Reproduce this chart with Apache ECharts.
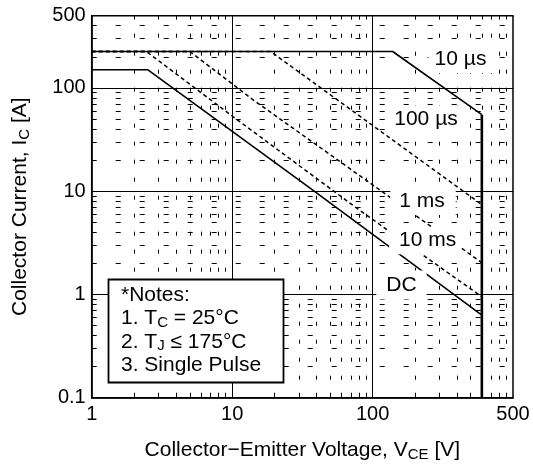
<!DOCTYPE html>
<html><head><meta charset="utf-8">
<script src="https://cdn.jsdelivr.net/npm/echarts@6/dist/echarts.min.js"></script>
<style>html,body{margin:0;padding:0;background:#fff}#c{width:533px;height:464px}</style>
</head><body><div id="c"></div>
<script>
// ---- data ----
const xLabelValues = [1, 10, 100, 1000];
const xLabelTexts = ['1', '10', '100', '500'];
const yLabelValues = [0.1, 1, 10, 100, 500];
const xMinor = [2,3,4,5,6,7,8,9,20,30,40,50,60,70,80,90,200,300,400,500,600,700,800,900];
const yMinor = [0.2,0.3,0.4,0.5,0.6,0.7,0.8,0.9,2,3,4,5,6,7,8,9,20,30,40,50,60,70,80,90,200,300,400];
const xMajor = [10, 100];
const yMajor = [1, 10, 100];

const dcV   = [1, 2.5, 38.4, 600];
const dcI   = [150, 150, 10, 0.63];
const ms10V = [1, 2.45, 10, 80, 600];
const ms10I = [225, 225, 53.4, 6.6, 0.95];
const ms1V  = [1, 5.0, 13.9, 84.9, 600];
const ms1I  = [225, 225, 77.7, 13.5, 2.03];
const us100V = [1, 18.8, 600];
const us100I = [225, 225, 7.4];
const us10V = [1, 139, 600];
const us10I = [225, 225, 55];
const limitV = [600, 600];
const limitI = [55, 0.1];

const FONT = "'Liberation Sans', Arial, Helvetica, sans-serif";
const zip = (a, b) => a.map((v, i) => [v, b[i]]);

const chart = echarts.init(document.getElementById('c'), null, {renderer: 'canvas'});

const minorLines = [];
xMinor.forEach(v => minorLines.push({xAxis: v, lineStyle: {type: [4, 14], width: 1, color: '#000'}}));
yMinor.forEach(v => minorLines.push({yAxis: v, lineStyle: {type: [5, 19], width: 1, color: '#000'}}));
const majorLines = [];
xMajor.forEach(v => majorLines.push({xAxis: v}));
yMajor.forEach(v => majorLines.push({yAxis: v}));

const solid = {color: '#000', width: 1.6};
const dashed = {color: '#000', width: 1.5, type: [4, 3]};

function lbl(text, x, y, pad) {
  return {
    type: 'text', z: 100, silent: true,
    style: {
      text: text, x: x, y: y, align: 'center', verticalAlign: 'middle',
      font: '21px ' + FONT, fill: '#000', backgroundColor: '#fff', padding: pad
    }
  };
}

chart.setOption({
  animation: false,
  backgroundColor: '#fff',
  grid: {left: 91.7, right: 20, top: 15.7, bottom: 66.3, show: true, borderColor: '#000', borderWidth: 1.5, outerBoundsMode: 'none'},
  xAxis: {
    type: 'log', logBase: 10, min: 1, max: 1000,
    axisLine: {show: true, lineStyle: {color: '#000', width: 1.5}},
    axisTick: {show: true, inside: true, length: 5, customValues: xMinor, lineStyle: {color: '#000', width: 1}},
    axisLabel: {customValues: xLabelValues, color: '#000', fontSize: 20, fontFamily: FONT, margin: 7,
      formatter: v => { const i = xLabelValues.indexOf(v); return i >= 0 ? xLabelTexts[i] : String(v); }},
    splitLine: {show: false},
    name: 'Collector\u2212Emitter Voltage, V{sub|CE} [V]',
    nameLocation: 'middle', nameGap: 40,
    nameTextStyle: {color: '#000', fontSize: 21, fontFamily: FONT, lineHeight: 25,
      rich: {sub: {fontSize: 15, fontFamily: FONT, color: '#000', lineHeight: 15, verticalAlign: 'bottom'}}}
  },
  yAxis: {
    type: 'log', logBase: 10, min: 0.1, max: 500,
    axisLine: {show: true, lineStyle: {color: '#000', width: 1.5}},
    axisTick: {show: true, inside: true, length: 4, customValues: yMinor, lineStyle: {color: '#000', width: 1}},
    axisLabel: {customValues: yLabelValues, color: '#000', fontSize: 20, fontFamily: FONT, margin: 6,
      formatter: v => String(v)},
    splitLine: {show: false},
    name: 'Collector Current, I{sub|C} [A]',
    nameLocation: 'middle', nameGap: 59, nameRotate: 90,
    nameTextStyle: {color: '#000', fontSize: 21, fontFamily: FONT, lineHeight: 25,
      rich: {sub: {fontSize: 15, fontFamily: FONT, color: '#000', lineHeight: 15, verticalAlign: 'bottom'}}}
  },
  series: [
    {type: 'line', data: [], z: 1, silent: true,
      markLine: {silent: true, symbol: 'none', label: {show: false}, animation: false, data: minorLines}},
    {type: 'line', data: [], z: 1, silent: true,
      markLine: {silent: true, symbol: 'none', label: {show: false}, animation: false,
        lineStyle: {type: 'solid', color: '#000', width: 1}, data: majorLines}},
    {type: 'line', name: 'DC', data: zip(dcV, dcI), symbol: 'none', lineStyle: solid, z: 3},
    {type: 'line', name: '10 us', data: zip(us10V, us10I), symbol: 'none', lineStyle: solid, z: 3},
    {type: 'line', name: 'limit', data: zip(limitV, limitI), symbol: 'none', lineStyle: {color: '#000', width: 2.6}, z: 4},
    {type: 'line', name: '10 ms', data: zip(ms10V, ms10I), symbol: 'none', lineStyle: dashed, z: 3},
    {type: 'line', name: '1 ms', data: zip(ms1V, ms1I), symbol: 'none', lineStyle: dashed, z: 3},
    {type: 'line', name: '100 us', data: zip(us100V, us100I), symbol: 'none', lineStyle: dashed, z: 3}
  ],
  graphic: [
    lbl('10 \u00b5s', 460.5, 59.5, [3, 6]),
    lbl('100 \u00b5s', 426, 119.5, [3, 6]),
    lbl('1 ms', 423, 201.5, [3, 11, 3, 9]),
    lbl('10 ms', 424.7, 240.7, [3, 4, 3, 10]),
    lbl('DC', 401.5, 285, [4, 10]),
    {type: 'rect', z: 100, silent: true,
      shape: {x: 108.5, y: 279.5, width: 175, height: 103},
      style: {fill: '#fff', stroke: '#000', lineWidth: 1.8}},
    {type: 'text', z: 101, silent: true,
      style: {
        x: 121, y: 283,
        text: '*Notes:\n1. T{sub|C} = 25\u00b0C\n2. T{sub|J} \u2264 175\u00b0C\n3. Single Pulse',
        font: '21px ' + FONT, fill: '#000', lineHeight: 23.5,
        rich: {sub: {fontSize: 15, fontFamily: FONT, fill: '#000', lineHeight: 15, verticalAlign: 'bottom'}}
      }}
  ]
});
</script>
</body></html>
